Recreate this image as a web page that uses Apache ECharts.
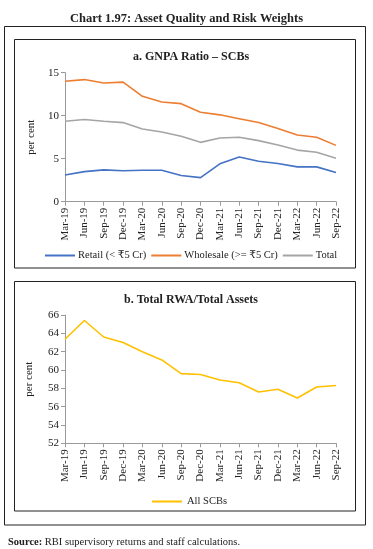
<!DOCTYPE html>
<html><head><meta charset="utf-8">
<script src="https://cdn.jsdelivr.net/npm/echarts@6/dist/echarts.min.js"></script>
<style>html,body{margin:0;padding:0;background:#fff}#c{width:373px;height:549px}</style>
</head><body><div id="c"></div>
<script>
const categories = ['Mar-19','Jun-19','Sep-19','Dec-19','Mar-20','Jun-20','Sep-20','Dec-20','Mar-21','Jun-21','Sep-21','Dec-21','Mar-22','Jun-22','Sep-22'];
const retail =    [3.1, 3.5, 3.7, 3.6, 3.65, 3.65, 3.05, 2.8, 4.4, 5.2, 4.7, 4.45, 4.05, 4.05, 3.4];
const wholesale = [14.0, 14.2, 13.8, 13.9, 12.25, 11.6, 11.4, 10.4, 10.1, 9.65, 9.2, 8.5, 7.75, 7.5, 6.55];
const total =     [9.35, 9.55, 9.35, 9.2, 8.45, 8.1, 7.6, 6.9, 7.4, 7.5, 7.1, 6.6, 6.0, 5.75, 5.05];
const rwa =       [63.35, 65.4, 63.6, 63.0, 62.0, 61.1, 59.6, 59.5, 58.9, 58.6, 57.6, 57.9, 56.95, 58.15, 58.3];
const seriesNamesA = ['Retail (< ₹5 Cr)', 'Wholesale (>= ₹5 Cr)', 'Total'];
const seriesNameB = 'All SCBs';

const F = "'Liberation Serif','DejaVu Serif',serif";
const txt = '#222';
const axisLine = {lineStyle:{color:'#9a9a9a', width:1}};
const axisTick = {show:true, lineStyle:{color:'#9a9a9a'}, length:4};
function xAxis(gi){return {type:'category', gridIndex:gi, data:categories, boundaryGap:false,
  axisLine, axisTick:Object.assign({alignWithLabel:true},axisTick),
  axisLabel:{rotate:90, fontFamily:F, fontSize:11, color:txt, margin:6, interval:0}};}
function yAxis(gi,min,max,iv){return {type:'value', gridIndex:gi, min, max, interval:iv,
  name:'per cent', nameLocation:'middle', nameGap: gi===0?24:30, nameTextStyle:{fontFamily:F,fontSize:11,color:txt},
  axisLine:Object.assign({show:true},axisLine), axisTick:Object.assign({},axisTick),
  splitLine:{show:false}, axisLabel:{fontFamily:F, fontSize:11, color:txt, margin:6}};}
function line(name, data, color, xi){return {type:'line', name, data, xAxisIndex:xi, yAxisIndex:xi,
  symbol:'none', lineStyle:{color, width:1.6}, itemStyle:{color}};}

const chart = echarts.init(document.getElementById('c'), null, {renderer:'canvas'});
chart.setOption({
  animation:false,
  backgroundColor:'#fff',
  title:[
    {text:'Chart 1.97: Asset Quality and Risk Weights', left:'center', top:7, textStyle:{fontFamily:F, fontSize:12.5, fontWeight:'bold', color:txt}},
    {text:'a. GNPA Ratio – SCBs', left:186, textAlign:'center', top:46, textStyle:{fontFamily:F, fontSize:12, fontWeight:'bold', color:txt}},
    {text:'b. Total RWA/Total Assets', left:186, textAlign:'center', top:289, textStyle:{fontFamily:F, fontSize:12, fontWeight:'bold', color:txt}},
    {text:'{b|Source:} RBI supervisory returns and staff calculations.', left:3, top:532,
      textStyle:{fontFamily:F, fontSize:10.5, fontWeight:'normal', color:txt, rich:{b:{fontFamily:F, fontSize:10.5, fontWeight:'bold', color:txt}}}}
  ],
  graphic:[
    {type:'rect', shape:{x:4.5, y:26.5, width:361, height:498.5}, style:{fill:'none', stroke:'#222', lineWidth:1}, silent:true},
    {type:'rect', shape:{x:14.5, y:39.5, width:341, height:228.5}, style:{fill:'none', stroke:'#222', lineWidth:1}, silent:true},
    {type:'rect', shape:{x:14.5, y:281.5, width:341, height:229.5}, style:{fill:'none', stroke:'#222', lineWidth:1}, silent:true}
  ],
  grid:[
    {left:65, right:37, top:72.7, bottom:347.3},
    {left:65, right:37, top:315, bottom:105.7}
  ],
  legend:[
    {data:seriesNamesA, top:245, left:40, itemWidth:30, itemHeight:2, itemGap:5, icon:'rect',
     textStyle:{fontFamily:F, fontSize:10.5, color:txt, padding:[0,0,0,-2]}},
    {data:[seriesNameB], top:491, left:147, itemWidth:30, itemHeight:2, icon:'rect',
     textStyle:{fontFamily:F, fontSize:10.5, color:txt}}
  ],
  xAxis:[xAxis(0), xAxis(1)],
  yAxis:[yAxis(0,0,15,5), yAxis(1,52,66,2)],
  series:[
    line(seriesNamesA[0], retail, '#4472C4', 0),
    line(seriesNamesA[1], wholesale, '#ED7D31', 0),
    line(seriesNamesA[2], total, '#A5A5A5', 0),
    line(seriesNameB, rwa, '#FFC000', 1)
  ]
});
</script></body></html>
